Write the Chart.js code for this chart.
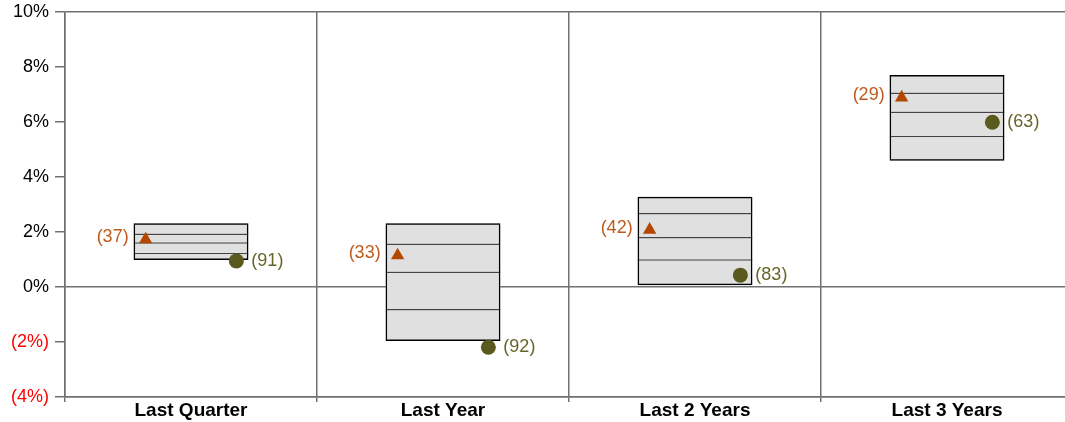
<!DOCTYPE html>
<html>
<head>
<meta charset="utf-8">
<script src="https://cdn.jsdelivr.net/npm/chart.js@4"></script>
<style>
  html, body { margin: 0; padding: 0; background: #fff; overflow: hidden; }
  canvas { display: block; }
</style>
</head>
<body>
<canvas id="c" width="1065" height="422" style="width:1065px;height:422px"></canvas>
<script>
const categories = ['Last Quarter', 'Last Year', 'Last 2 Years', 'Last 3 Years'];
// percentile bands: 5th, 25th, 50th, 75th, 95th
const p05 = [0.98, -1.96, 0.06, 4.59];
const p25 = [1.25, -0.80, 1.01, 5.50];
const p50 = [1.63, 0.56, 1.82, 6.38];
const p75 = [1.95, 1.58, 2.69, 7.07];
const p95 = [2.32, 2.32, 3.28, 7.71];
const triangleValues = [1.73, 1.15, 2.08, 6.89];
const triangleRanks = ['(37)', '(33)', '(42)', '(29)'];
const circleValues = [0.95, -2.19, 0.43, 5.99];
const circleRanks = ['(91)', '(92)', '(83)', '(63)'];
const yTicks = [-4, -2, 0, 2, 4, 6, 8, 10];

const GRID = '#707070';
const FONT = '"Liberation Sans", Arial, sans-serif';
const MARK_OFFSET = 0.18;
const PLOT_RIGHT = 1073; // the plot area runs slightly past the right canvas edge, as in the reference

function seg(lo, hi) { return lo.map((v, i) => [v, hi[i]]); }

const segStyle = {
  type: 'bar', grouped: false, backgroundColor: '#e0e0e0', borderColor: '#444444',
  borderWidth: { top: 1.5, bottom: 0, left: 0, right: 0 }, borderSkipped: false,
  categoryPercentage: 1, barPercentage: 0.456, xAxisID: 'x', order: 10
};

const overhangPlugin = {
  id: 'overhang',
  afterLayout(chart) {
    const a = chart.chartArea;
    a.right = PLOT_RIGHT; a.width = a.right - a.left;
    ['x', 'xp'].forEach(id => {
      const s = chart.scales[id];
      s.right = PLOT_RIGHT; s.width = s.right - s.left;
      s.configure();
    });
  }
};

const labelPlugin = {
  id: 'rankLabels',
  afterDatasetsDraw(chart) {
    const ctx = chart.ctx;
    ctx.save();
    ctx.font = '18px ' + FONT;
    ctx.textBaseline = 'middle';
    chart.data.datasets.forEach((ds, di) => {
      if (!ds.rankLabels) return;
      const meta = chart.getDatasetMeta(di);
      meta.data.forEach((pt, i) => {
        ctx.fillStyle = ds.rankColor;
        if (ds.rankSide === 'left') {
          ctx.textAlign = 'right';
          ctx.fillText(ds.rankLabels[i], pt.x - 17, pt.y - 2);
        } else {
          ctx.textAlign = 'left';
          ctx.fillText(ds.rankLabels[i], pt.x + 15, pt.y);
        }
      });
    });
    ctx.restore();
  }
};

new Chart(document.getElementById('c'), {
  type: 'bar',
  data: {
    labels: categories,
    datasets: [
      Object.assign({ data: seg(p05, p25) }, segStyle),
      Object.assign({ data: seg(p25, p50) }, segStyle),
      Object.assign({ data: seg(p50, p75) }, segStyle),
      Object.assign({}, segStyle, { data: seg(p75, p95), borderWidth: 0 }),
      Object.assign({}, segStyle, { data: seg(p05, p95), backgroundColor: 'rgba(0,0,0,0)', borderColor: '#000000', borderWidth: 1.5, order: 5 }),
      {
        type: 'scatter', xAxisID: 'xp', order: 1,
        data: triangleValues.map((v, i) => ({ x: i - MARK_OFFSET, y: v })),
        pointStyle: 'triangle', pointRadius: 7.7, pointHoverRadius: 7.7,
        backgroundColor: '#B34700', borderColor: '#B34700', borderWidth: 0,
        rankLabels: triangleRanks, rankColor: '#BF5A1C', rankSide: 'left'
      },
      {
        type: 'scatter', xAxisID: 'xp', order: 1,
        data: circleValues.map((v, i) => ({ x: i + MARK_OFFSET, y: v })),
        pointStyle: 'circle', pointRadius: 7.5, pointHoverRadius: 7.5,
        backgroundColor: '#5A5A1E', borderColor: '#5A5A1E', borderWidth: 0,
        rankLabels: circleRanks, rankColor: '#66662A', rankSide: 'right'
      }
    ]
  },
  options: {
    responsive: false, animation: false, devicePixelRatio: 1,
    layout: { padding: { top: 12, right: 0, bottom: 0, left: 0 } },
    plugins: { legend: { display: false }, tooltip: { enabled: false } },
    scales: {
      x: {
        type: 'category', offset: true,
        grid: { color: GRID, lineWidth: 1.5, offset: true, drawTicks: true, tickLength: 5, tickColor: GRID },
        border: { display: true, color: GRID, width: 1.5 },
        ticks: { color: '#000', font: { family: FONT, size: 19, weight: 'bold' }, padding: -3 },
        afterFit(s) { s.height = 25; s.paddingLeft = 0; s.paddingRight = 0; }
      },
      xp: {
        type: 'linear', display: false, offset: false, grid: { offset: false },
        min: -0.5, max: 3.5
      },
      y: {
        min: -4, max: 10,
        afterBuildTicks(s) { s.ticks = yTicks.map(v => ({ value: v })); },
        grid: {
          color: (c) => (c.tick && [10, 0, -4].includes(c.tick.value)) ? GRID : 'rgba(0,0,0,0)',
          lineWidth: 1.5, tickLength: 10, tickColor: GRID, drawTicks: true
        },
        border: { display: true, color: GRID, width: 1.5 },
        ticks: {
          padding: 6,
          font: { family: FONT, size: 18 },
          color: (c) => c.tick.value < 0 ? '#FF0000' : '#000000',
          callback: (v) => v < 0 ? '(' + (-v) + '%)' : v + '%'
        },
        afterFit(s) { s.width = 65; s.paddingTop = 0; s.paddingBottom = 0; }
      }
    }
  },
  plugins: [overhangPlugin, labelPlugin]
});
</script>
</body>
</html>
